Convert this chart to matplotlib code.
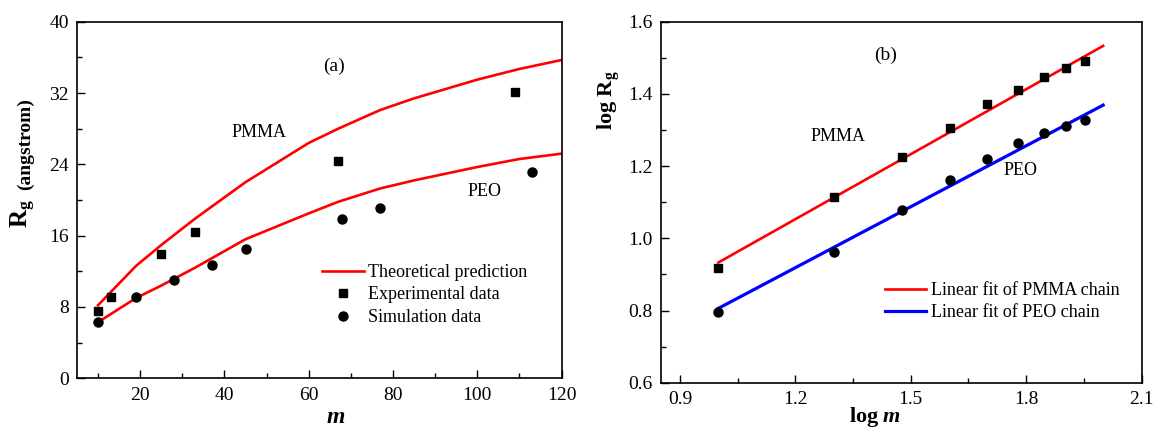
import matplotlib
matplotlib.use("Agg")
import matplotlib.pyplot as plt
from matplotlib.ticker import MultipleLocator, FormatStrFormatter

plt.rcParams['font.family'] = ['Liberation Serif', 'DejaVu Serif']
plt.rcParams['mathtext.fontset'] = 'custom'
plt.rcParams['mathtext.rm'] = 'Liberation Serif'
plt.rcParams['mathtext.it'] = 'Liberation Serif:italic'
plt.rcParams['mathtext.bf'] = 'Liberation Serif:bold'
plt.rcParams['mathtext.bfit'] = 'Liberation Serif:italic:bold'

# (a) Rg vs m
m_exp = [10, 13, 25, 33, 67, 109]
rg_exp = [7.55, 9.16, 13.9, 16.4, 24.4, 32.1]
m_sim = [10, 19, 28, 37, 45, 68, 77, 113]
rg_sim = [6.3, 9.1, 11.0, 12.7, 14.5, 17.9, 19.1, 23.1]
m_th = [10, 19, 25, 33, 45, 60, 67, 77, 85, 100, 110, 120]
rg_th_pmma = [8.2, 12.6, 14.95, 17.9, 22.0, 26.4, 28.0, 30.1, 31.4, 33.5, 34.7, 35.7]
rg_th_peo = [6.3, 9.0, 10.4, 12.4, 15.6, 18.5, 19.8, 21.3, 22.2, 23.7, 24.6, 25.2]

# (b) log-log
logm = [1.0, 1.301, 1.477, 1.602, 1.699, 1.778, 1.845, 1.903, 1.954]
logrg_pmma = [0.919, 1.115, 1.224, 1.306, 1.372, 1.411, 1.448, 1.471, 1.492]
logrg_peo = [0.795, 0.963, 1.078, 1.161, 1.220, 1.263, 1.293, 1.312, 1.328]
fit_x = [1.0, 2.0]
fit_pmma = [0.933, 1.533]
fit_peo = [0.806, 1.369]

fig = plt.figure(figsize=(11.54, 4.28), dpi=100)
ax1 = fig.add_axes([0.0667, 0.1161, 0.4199, 0.8332])
ax2 = fig.add_axes([0.5725, 0.1058, 0.4168, 0.8435])

ax1.plot(m_th, rg_th_pmma, color='red', lw=1.9, label='Theoretical prediction')
ax1.plot(m_th, rg_th_peo, color='red', lw=1.9)
ax1.plot(m_exp, rg_exp, 's', color='black', ms=5.5, label='Experimental data')
ax1.plot(m_sim, rg_sim, 'o', color='black', ms=6.5, label='Simulation data')
ax1.set_xlim(5, 120)
ax1.set_ylim(0, 40)
ax1.xaxis.set_major_locator(MultipleLocator(20))
ax1.xaxis.set_minor_locator(MultipleLocator(10))
ax1.yaxis.set_major_locator(MultipleLocator(8))
ax1.yaxis.set_minor_locator(MultipleLocator(4))
ax1.text(66, 35, '(a)', fontsize=14, ha='center', va='center')
ax1.text(48.3, 27.6, 'PMMA', fontsize=13, ha='center', va='center')
ax1.text(101.7, 20.9, 'PEO', fontsize=13, ha='center', va='center')
ax1.set_xlabel(r'$\mathbfit{m}$', fontsize=17, labelpad=0)
ax1.xaxis.set_label_coords(0.533, -0.08)
ax1.text(-0.11, 0.461, r'$\mathbf{R_g}$', fontsize=18, rotation=90,
         ha='center', va='center', transform=ax1.transAxes)
ax1.text(-0.107, 0.657, '(angstrom)', fontsize=14, fontweight='bold', rotation=90,
         ha='center', va='center', transform=ax1.transAxes)
ax1.legend(loc='upper left', bbox_to_anchor=(0.4725, 0.366), frameon=False,
           fontsize=13, handlelength=2.3, handletextpad=0.25, labelspacing=0.3)

ax2.plot(fit_x, fit_pmma, color='red', lw=1.9, label='Linear fit of PMMA chain')
ax2.plot(fit_x, fit_peo, color='blue', lw=2.3, label='Linear fit of PEO chain')
ax2.plot(logm, logrg_pmma, 's', color='black', ms=5.5)
ax2.plot(logm, logrg_peo, 'o', color='black', ms=6.5)
ax2.set_xlim(0.85, 2.1)
ax2.set_ylim(0.6, 1.6)
ax2.xaxis.set_major_locator(MultipleLocator(0.3))
ax2.xaxis.set_minor_locator(MultipleLocator(0.15))
ax2.yaxis.set_major_locator(MultipleLocator(0.2))
ax2.yaxis.set_minor_locator(MultipleLocator(0.1))
ax2.xaxis.set_major_formatter(FormatStrFormatter('%.1f'))
ax2.yaxis.set_major_formatter(FormatStrFormatter('%.1f'))
ax2.text(1.435, 1.508, '(b)', fontsize=14, ha='center', va='center')
ax2.text(1.311, 1.281, 'PMMA', fontsize=13, ha='center', va='center')
ax2.text(1.786, 1.189, 'PEO', fontsize=13, ha='center', va='center')
ax2.set_xlabel(r'$\mathbf{log}\ \mathbfit{m}$', fontsize=16, labelpad=0)
ax2.xaxis.set_label_coords(0.445, -0.062)
ax2.text(-0.108, 0.783, r'$\mathbf{log\ R_g}$', fontsize=16, rotation=90,
         ha='center', va='center', transform=ax2.transAxes)
ax2.legend(loc='upper left', bbox_to_anchor=(0.432, 0.324), frameon=False,
           fontsize=13, handlelength=2.3, handletextpad=0.25, labelspacing=0.3)

for ax in (ax1, ax2):
    ax.tick_params(which='both', direction='in', top=False, right=False,
                   labelsize=14, pad=6)
    ax.tick_params(which='major', length=6, width=1)
    ax.tick_params(which='minor', length=3.5, width=1)
    for s in ax.spines.values():
        s.set_linewidth(1.2)

fig.savefig('out.png', dpi=100)
